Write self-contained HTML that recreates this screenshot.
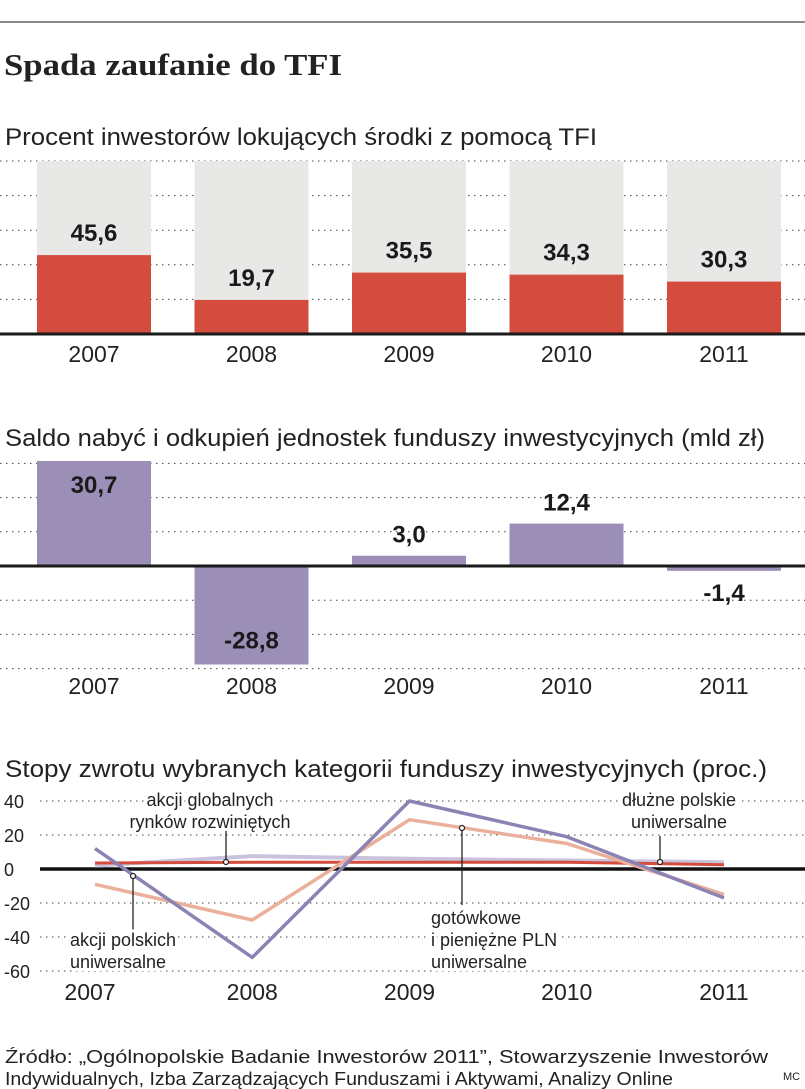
<!DOCTYPE html>
<html><head><meta charset="utf-8"><style>
body{margin:0;background:#fff;width:805px;height:1089px;overflow:hidden}
svg{display:block;font-family:"Liberation Sans",sans-serif}
</style></head><body>
<svg id="c" width="805" height="1089" viewBox="0 0 805 1089">
<line x1="0" y1="22" x2="805" y2="22" stroke="#666" stroke-width="1.5"/>
<text x="4" y="75" font-family="Liberation Serif,serif" font-weight="bold" font-size="31" fill="#222" textLength="338" lengthAdjust="spacingAndGlyphs">Spada zaufanie do TFI</text>
<text x="5" y="145" font-size="24" fill="#222" textLength="592" lengthAdjust="spacingAndGlyphs">Procent inwestorów lokujących środki z pomocą TFI</text>
<text x="5" y="446" font-size="24" fill="#222" textLength="760" lengthAdjust="spacingAndGlyphs">Saldo nabyć i odkupień jednostek funduszy inwestycyjnych (mld zł)</text>
<text x="5" y="777" font-size="24" fill="#222" textLength="762" lengthAdjust="spacingAndGlyphs">Stopy zwrotu wybranych kategorii funduszy inwestycyjnych (proc.)</text>
<g id="g1"></g><g id="g2"></g><g id="g3"></g>
<text x="5" y="1063" font-size="18" fill="#222" textLength="763" lengthAdjust="spacingAndGlyphs">Źródło: „Ogólnopolskie Badanie Inwestorów 2011”, Stowarzyszenie Inwestorów</text>
<text x="5" y="1085" font-size="18" fill="#222" textLength="668" lengthAdjust="spacingAndGlyphs">Indywidualnych, Izba Zarządzających Funduszami i Aktywami, Analizy Online</text>
<text x="783" y="1080" font-size="11" fill="#222">MC</text>
</svg>
<script>
const years=["2007","2008","2009","2010","2011"];
const pctValues=[45.6,19.7,35.5,34.3,30.3];
const pctLabels=["45,6","19,7","35,5","34,3","30,3"];
const saldoValues=[30.7,-28.8,3.0,12.4,-1.4];
const saldoLabels=["30,7","-28,8","3,0","12,4","-1,4"];
const ret3Ticks=[40,20,0,-20,-40,-60];
const akcjiPolskich=[12,-52,40,19,-17];
const gotowkowe=[-9,-30,29,15,-15];
const akcjiGlobalnych=[2,7.6,6,5,4];
const dluzne=[3.5,4,4,4,2.5];
const NS="http://www.w3.org/2000/svg";
function mk(p,t,a,txt){const e=document.createElementNS(NS,t);for(const k in a)e.setAttribute(k,a[k]);if(txt!=null)e.textContent=txt;p.appendChild(e);return e;}
const bx=i=>37+i*157.5, bw=114, cx=i=>bx(i)+bw/2;
// chart1
const g1=document.getElementById('g1');
const y1=v=>334-v*1.73;
for(let k=1;k<=5;k++){const l=mk(g1,'line',{x1:0,x2:805,y1:y1(k*20),y2:y1(k*20),stroke:'#444','stroke-dasharray':'1.5 4.5'});}
pctValues.forEach((v,i)=>{
 const b=mk(g1,'rect',{x:bx(i),y:y1(100),width:bw,height:y1(0)-y1(100),fill:'#e8e8e7'});
 const r=mk(g1,'rect',{x:bx(i),y:y1(v),width:bw,height:y1(0)-y1(v),fill:'#d34c3d'});
 const t=mk(g1,'text',{x:cx(i),y:y1(v)-14,'text-anchor':'middle','font-size':24,'font-weight':'bold',fill:'#1a1a1a'},pctLabels[i]);
 const y=mk(g1,'text',{x:cx(i),y:362,'text-anchor':'middle','font-size':23,fill:'#222'},years[i]);
});
const a1=mk(g1,'line',{x1:0,x2:805,y1:334,y2:334,stroke:'#1a1a1a','stroke-width':3});
// chart2
const g2=document.getElementById('g2');
const y2=v=>566-v*3.42;
[30,20,10,-10,-20,-30].forEach(v=>{const l=mk(g2,'line',{x1:0,x2:805,y1:y2(v),y2:y2(v),stroke:'#444','stroke-dasharray':'1.5 4.5'});});
saldoValues.forEach((v,i)=>{
 const top=Math.min(y2(v),y2(0)),h=Math.abs(y2(v)-y2(0));
 const r=mk(g2,'rect',{x:bx(i),y:top,width:bw,height:Math.max(h,2),fill:'#9b8fb7'});
 let ty;
 if(Math.abs(v)>20) ty=v>0?y2(v)+32:y2(v)-16; else ty=v>0?y2(v)-13:y2(v)+30;
 const t=mk(g2,'text',{x:cx(i),y:ty,'text-anchor':'middle','font-size':24,'font-weight':'bold',fill:'#1a1a1a'},saldoLabels[i]);
 const y=mk(g2,'text',{x:cx(i),y:694,'text-anchor':'middle','font-size':23,fill:'#222'},years[i]);
});
const a2=mk(g2,'line',{x1:0,x2:805,y1:566,y2:566,stroke:'#1a1a1a','stroke-width':3});
// chart3
const g3=document.getElementById('g3');
const y3=v=>869-v*1.7;
const x3=i=>95+i*157.25;
ret3Ticks.forEach(v=>{
 const t=mk(g3,'text',{x:4,y:y3(v)+7,'font-size':18,fill:'#222'},String(v));
 if(v!==0){const l=mk(g3,'line',{x1:40,x2:805,y1:y3(v),y2:y3(v),stroke:'#444','stroke-dasharray':'1.5 4.5'});}
});
const a3=mk(g3,'line',{x1:40,x2:805,y1:y3(0),y2:y3(0),stroke:'#111','stroke-width':3.5});
function line(arr,col,w,name){const p=mk(g3,'polyline',{points:arr.map((v,i)=>x3(i)+','+y3(v)).join(' '),fill:'none',stroke:col,'stroke-width':w,'stroke-linejoin':'round'});}
line(akcjiGlobalnych,'#c9c3dd',4,'line-akcji-globalnych');
line(dluzne,'#d34c3d',3,'line-dluzne-polskie');
line(gotowkowe,'#eab09b',3.5,'line-gotowkowe');
line(akcjiPolskich,'#8a83b3',3.5,'line-akcji-polskich');
years.forEach((yr,i)=>{const y=mk(g3,'text',{x:x3(i)+(i==0?-5:0),y:1000,'text-anchor':'middle','font-size':23,fill:'#222'},yr);});
function label(lines,x,y,anchor,name){lines.forEach((s,k)=>{const bg=mk(g3,'text',{x:x,y:y+k*22,'text-anchor':anchor,'font-size':18,fill:'#222',stroke:'#fff','stroke-width':6,'paint-order':'stroke'},s);});}
function pointer(x,ya,yb,name){const l=mk(g3,'line',{x1:x,x2:x,y1:ya,y2:yb,stroke:'#222','stroke-width':1.3});const c=mk(g3,'circle',{cx:x,cy:ya,r:2.5,fill:'#fff',stroke:'#222','stroke-width':1.2});}
pointer(226,862,828,'akcji-globalnych');
pointer(133,876,930,'akcji-polskich');
pointer(462,828,905,'gotowkowe');
pointer(660,862,836,'dluzne');
label(['akcji globalnych','rynków rozwiniętych'],210,806,'middle','label-akcji-globalnych');
label(['akcji polskich','uniwersalne'],70,946,'start','label-akcji-polskich');
label(['gotówkowe','i pieniężne PLN','uniwersalne'],431,924,'start','label-gotowkowe');
label(['dłużne polskie','uniwersalne'],679,806,'middle','label-dluzne');
</script>
</body></html>
